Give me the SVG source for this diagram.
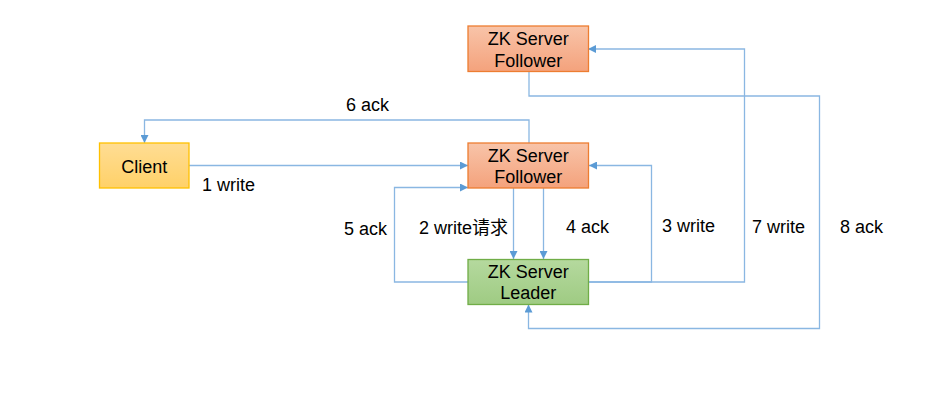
<svg xmlns="http://www.w3.org/2000/svg" width="942" height="419" viewBox="0 0 942 419">
<defs>
<linearGradient id="gOrange" x1="0" y1="0" x2="0" y2="1">
<stop offset="0" stop-color="#f8c4a9"/><stop offset="1" stop-color="#f4a27c"/>
</linearGradient>
<linearGradient id="gGreen" x1="0" y1="0" x2="0" y2="1">
<stop offset="0" stop-color="#b5d99e"/><stop offset="1" stop-color="#9fcb83"/>
</linearGradient>
<linearGradient id="gYellow" x1="0" y1="0" x2="0" y2="1">
<stop offset="0" stop-color="#ffdd94"/><stop offset="1" stop-color="#ffd168"/>
</linearGradient>
<marker id="arr" viewBox="0 0 10 10" refX="10" refY="5" markerWidth="8" markerHeight="8" markerUnits="userSpaceOnUse" orient="auto">
<path d="M0,0 L10,5 L0,10 Z" fill="#5b9bd5"/>
</marker>
<style>
text{font-family:"Liberation Sans",Arial,sans-serif;font-size:18px;fill:#000}
.node text{text-anchor:middle}
.conn path{fill:none;stroke:#8ab7e2;stroke-width:1.3}
.arrow{marker-end:url(#arr)}
.fol{fill:url(#gOrange);stroke:#ed7d31;stroke-width:1.3}
.lead{fill:url(#gGreen);stroke:#70ad47;stroke-width:1.3}
.cli{fill:url(#gYellow);stroke:#ffc000;stroke-width:1.3}
</style>
</defs>
<rect width="942" height="419" fill="#fff"/>
<g id="connectors" class="conn">
<path class="arrow" d="M189,165.5 H468"/>
<path class="arrow" d="M529,143 V120 H144.5 V143"/>
<path class="arrow" d="M513.5,188 V259"/>
<path class="arrow" d="M543.5,188 V259"/>
<path class="arrow" d="M468,282 H394.5 V187.5 H468"/>
<path class="arrow" d="M589,282 H651.5 V165.5 H589"/>
<path class="arrow" d="M589,282 H744.5 V49 H588"/>
<path class="arrow" d="M529,71 V96 H819.5 V328.5 H528.5 V304.5"/>
</g>
<g id="labels">
<text x="346" y="110.7">6 ack</text>
<text x="202" y="191">1 write</text>
<text x="344" y="235">5 ack</text>
<text x="419" y="234.3">2 write<tspan font-family="'Noto Sans CJK SC',sans-serif">请求</tspan></text>
<text x="566" y="233.3">4 ack</text>
<text x="662" y="232.3">3 write</text>
<text x="752" y="232.7">7 write</text>
<text x="840" y="233.3">8 ack</text>
</g>
<g id="follower-top" class="node">
<rect class="fol" x="468" y="26" width="120.5" height="45.5"/>
<text x="528.3" y="45">ZK Server</text>
<text x="528.3" y="66.7">Follower</text>
</g>
<g id="client" class="node">
<rect class="cli" x="99.5" y="143" width="89.5" height="45"/>
<text x="144.2" y="172.7">Client</text>
</g>
<g id="follower-mid" class="node">
<rect class="fol" x="468" y="143" width="120.5" height="45"/>
<text x="528.3" y="161.7">ZK Server</text>
<text x="528.3" y="183.3">Follower</text>
</g>
<g id="leader" class="node">
<rect class="lead" x="468" y="259.5" width="120.5" height="45"/>
<text x="528.3" y="277.7">ZK Server</text>
<text x="528.3" y="299.3">Leader</text>
</g>
</svg>
